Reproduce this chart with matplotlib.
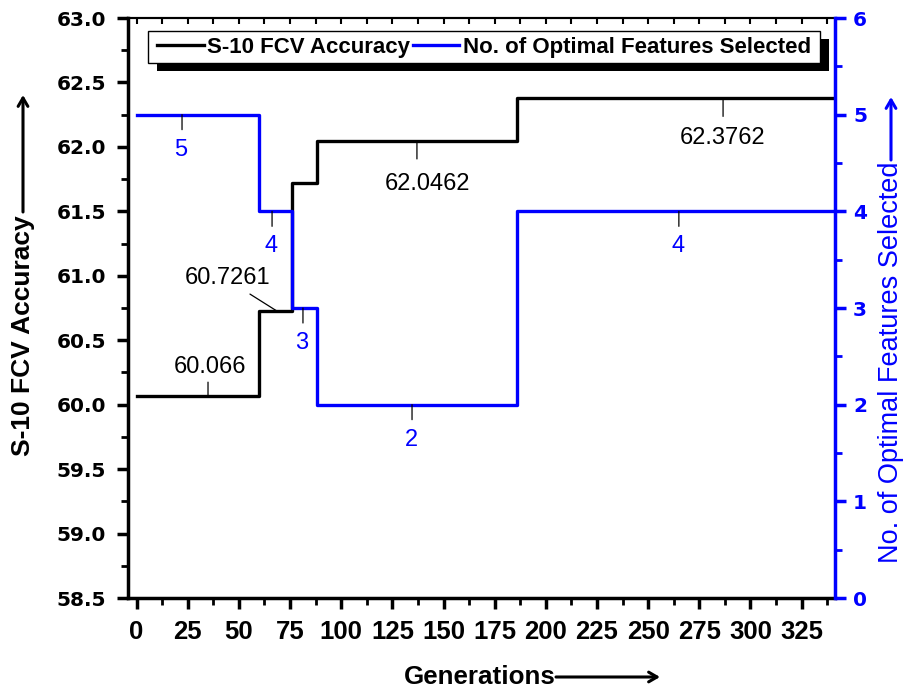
import matplotlib
matplotlib.use("Agg")
import matplotlib.pyplot as plt
from matplotlib.ticker import MultipleLocator
from matplotlib.patches import Rectangle
from matplotlib.transforms import IdentityTransform

# generation at which each step starts, last entry is the end of the run
generaciones = [0, 60, 76, 88, 186, 341.3]
precision = [60.066, 60.7261, 61.7162, 62.0462, 62.3762, 62.3762]
n_features = [5, 4, 3, 2, 4, 4]

# etiquetas sobre las curvas: (generacion, valor, texto)
etq_precision = [(34.9, 60.066, "60.066"), (68.6, 60.7261, "60.7261"),
                 (137, 62.0462, "62.0462"), (286.6, 62.3762, "62.3762")]
etq_features = [(22.2, 5, "5"), (66.2, 4, "4"), (81.3, 3, "3"),
                (134.6, 2, "2"), (265, 4, "4")]

W, H = 905, 690
fig = plt.figure(figsize=(W / 100, H / 100), dpi=100)
ax = fig.add_axes([128 / W, 1 - 598 / H, (835 - 128) / W, (598 - 18) / H])
ax2 = ax.twinx()

l1, = ax.plot(generaciones, precision, drawstyle="steps-post", color="k", lw=2.4)
l2, = ax2.plot(generaciones, n_features, drawstyle="steps-post", color="blue", lw=2.4)

ax.set_xlim(-4.2, 341.3)
ax.set_ylim(58.5, 63.0)
ax2.set_ylim(0, 6)

ax.xaxis.set_major_locator(MultipleLocator(25))
ax.xaxis.set_minor_locator(MultipleLocator(12.5))
ax.yaxis.set_major_locator(MultipleLocator(0.5))
ax.yaxis.set_minor_locator(MultipleLocator(0.25))
ax2.yaxis.set_major_locator(MultipleLocator(1))
ax2.yaxis.set_minor_locator(MultipleLocator(0.5))

for s in ["left", "bottom"]:
    ax.spines[s].set_linewidth(2.5)
ax.spines["top"].set_linewidth(1.5)
ax.spines["right"].set_visible(False)
for s in ["left", "top", "bottom"]:
    ax2.spines[s].set_visible(False)
ax2.spines["right"].set_color("blue")
ax2.spines["right"].set_linewidth(2.5)

ax.tick_params(axis="both", which="major", direction="out", length=8, width=2.5)
ax.tick_params(axis="both", which="minor", direction="out", length=5, width=2)
ax.tick_params(axis="y", labelsize=14.5, pad=8)
ax.tick_params(axis="x", labelsize=18.5, pad=8)
ax.set_yticks(ax.get_yticks())
ax.set_yticklabels([f"{v:.1f}" for v in ax.get_yticks()])
for t in ax.get_yticklabels():
    t.set_fontfamily("DejaVu Sans")
    t.set_fontweight("bold")
for t in ax.get_xticklabels():
    t.set_fontfamily("Liberation Sans")
    t.set_fontweight("bold")
ax.set_ylim(58.5, 63.0)

ax2.tick_params(axis="y", which="major", direction="out", length=8, width=2.5,
                colors="blue", labelsize=14.5, pad=5)
ax2.tick_params(axis="y", which="minor", direction="out", length=5, width=2, colors="blue")
for t in ax2.get_yticklabels():
    t.set_fontfamily("DejaVu Sans")
    t.set_fontweight("bold")

# marcas hacia adentro en el borde superior
top = ax.secondary_xaxis("top")
top.xaxis.set_major_locator(MultipleLocator(25))
top.xaxis.set_minor_locator(MultipleLocator(12.5))
top.tick_params(axis="x", which="both", direction="in", length=4, width=1.5, labeltop=False)
top.spines["top"].set_linewidth(1.5)

# etiquetas con su lineita
fs = 17
desp = {"60.066": ((0, 14), (2, 29)), "60.7261": ((-27, 17), (-49, 33)),
        "62.0462": ((0, -18), (11, -43)), "62.3762": ((0, -18), (-1, -40))}
for x, v, txt in etq_precision:
    lin, pos = desp[txt]
    ax.annotate("", xy=(x, v), xytext=lin, textcoords="offset pixels",
                arrowprops=dict(arrowstyle="-", lw=0.9, color="k", shrinkA=0, shrinkB=0))
    ax.annotate(txt, xy=(x, v), xytext=pos, textcoords="offset pixels",
                ha="center", va="center", fontsize=fs, family="Liberation Sans")

for x, v, txt in etq_features:
    ax2.annotate("", xy=(x, v), xytext=(0, -15), textcoords="offset pixels",
                 arrowprops=dict(arrowstyle="-", lw=0.9, color="k", shrinkA=0, shrinkB=0))
    ax2.annotate(txt, xy=(x, v), xytext=(-1, -35), textcoords="offset pixels",
                 ha="center", va="center", fontsize=fs, color="blue", family="Liberation Sans")

# leyenda: marco y sombra dibujados aparte
leg = ax2.legend([l1, l2], ["S-10 FCV Accuracy", "No. of Optimal Features Selected"],
                 loc="center", bbox_to_anchor=(484 / W, 1 - 47 / H),
                 bbox_transform=fig.transFigure, borderaxespad=0, ncol=2, frameon=False,
                 handlelength=2.1, handletextpad=0.15, columnspacing=0.1, borderpad=0,
                 prop={"family": "Liberation Sans", "weight": "bold", "size": 16})
leg.set_zorder(10)
sombra = Rectangle((157, H - 71), 672, 32, transform=IdentityTransform(),
                   facecolor="k", edgecolor="none", zorder=8, clip_on=False)
marco = Rectangle((148, H - 63), 672, 32, transform=IdentityTransform(),
                  facecolor="white", edgecolor="k", lw=1.0, zorder=9, clip_on=False)
ax2.add_artist(sombra)
ax2.add_artist(marco)

# titulos de ejes con flechas
fig.text(23 / W, 1 - 336 / H, "S-10 FCV Accuracy", rotation=90, ha="center", va="center",
         fontsize=19, fontweight="bold", family="Liberation Sans")
fig.text(891 / W, 1 - 362 / H, "No. of Optimal Features Selected", rotation=90, ha="center",
         va="center", fontsize=19.5, color="blue", family="Liberation Sans")
fig.text(480 / W, 1 - 677 / H, "Generations", ha="center", va="center",
         fontsize=18.75, fontweight="bold", family="Liberation Sans")

def flecha(x0, y0, x1, y1, color):
    ax.annotate("", xy=(x1, H - y1), xytext=(x0, H - y0), xycoords="figure pixels",
                textcoords="figure pixels", annotation_clip=False,
                arrowprops=dict(arrowstyle="->,head_length=0.6,head_width=0.35", lw=2.2,
                                color=color, shrinkA=0, shrinkB=0))

flecha(23, 212, 23, 95, "k")
flecha(891, 160, 891, 97, "blue")
flecha(556, 677, 660, 677, "k")

fig.savefig("out.png", dpi=100)
